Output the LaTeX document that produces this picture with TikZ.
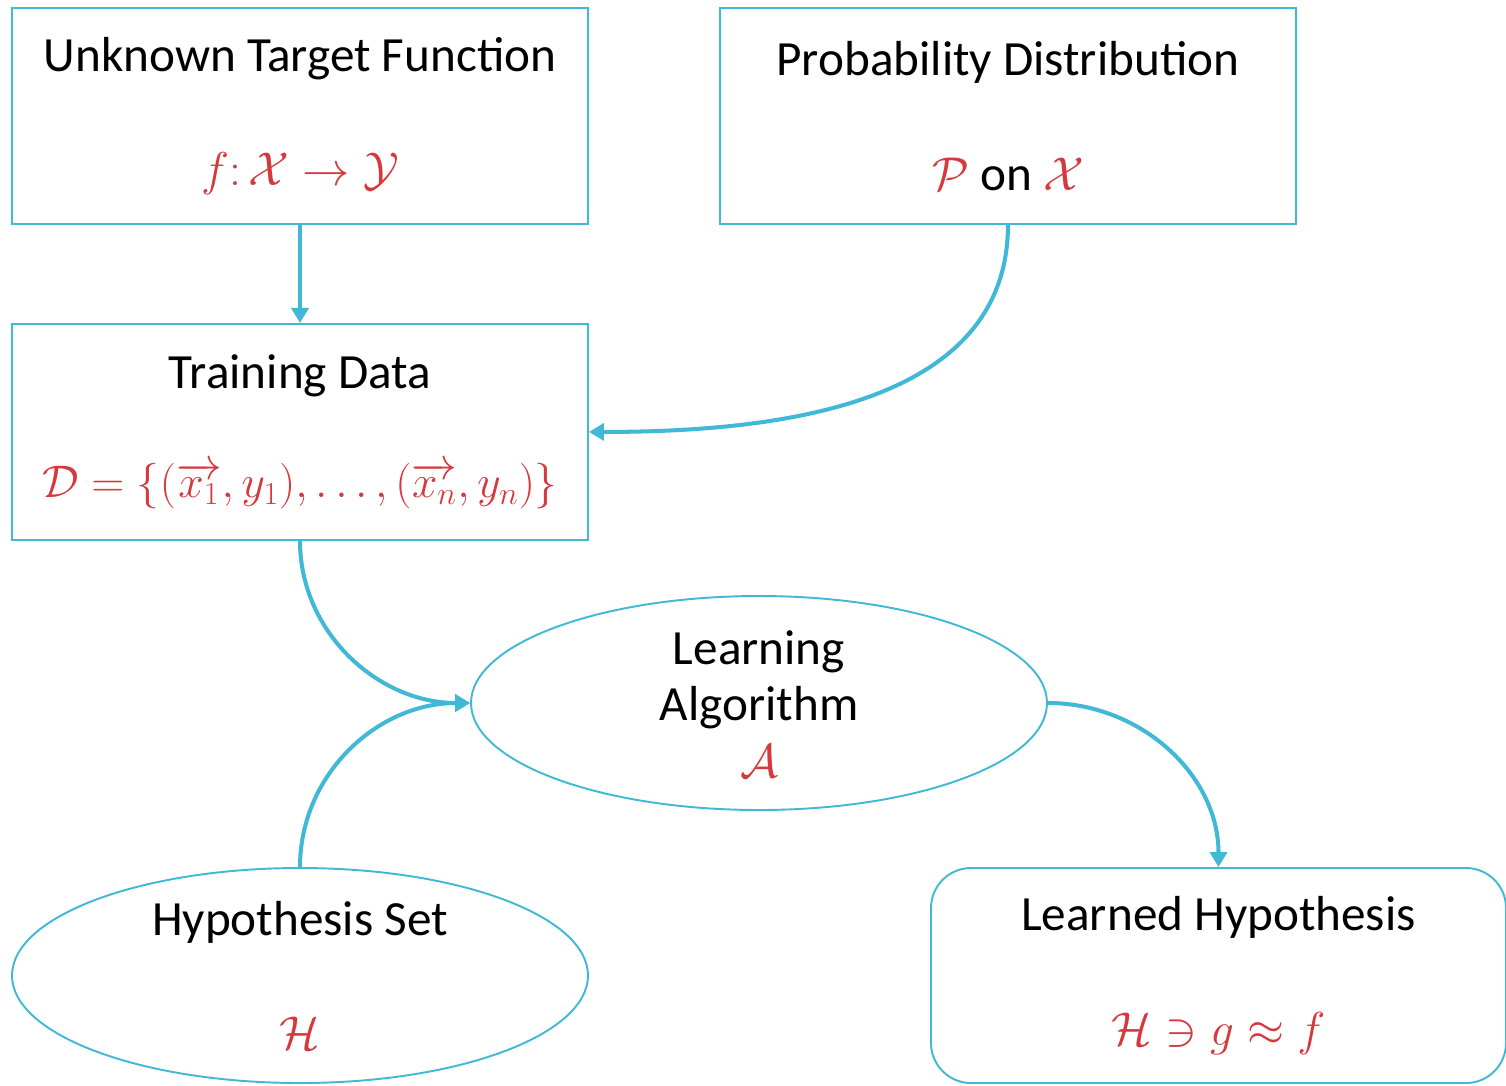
\RequirePackage{fix-cm}
\documentclass[tikz,border=0pt]{standalone}
\usepackage{fontspec}
\setmainfont{Carlito}
\usetikzlibrary{positioning,shapes.geometric,arrows.meta}
\definecolor{flowcyan}{RGB}{65,185,214}
\definecolor{mathred}{RGB}{214,57,61}
\newcommand{\rd}[1]{{\fontsize{27}{32}\selectfont\textcolor{mathred}{#1}}}
\tikzset{
  frame/.style={draw=flowcyan, line width=1.1pt, minimum width=11.52cm, minimum height=4.32cm, inner sep=0pt},
  oval/.style={frame, ellipse, minimum height=4.28cm},
  rframe/.style={frame, rounded corners=0.8cm},
  caption/.style={align=center, font=\fontsize{28}{32}\selectfont, inner sep=0pt},
  flow/.style={draw=flowcyan, line width=2.3pt, -{Triangle[width=0.34cm,length=0.3cm]}}
}
\begin{document}
\begin{tikzpicture}
\useasboundingbox (0,0) rectangle (30.12,-21.7);
% boxes
\node[frame] (target) at (6.0,-2.32) {};
\node[frame, right=2.6cm of target] (prob) {};
\node[frame, below=1.96cm of target] (train) {};
\node[oval] (learn) at (15.18,-14.06) {};
\node[oval, minimum height=4.3cm] (hset) at (6.0,-19.51) {};
\node[rframe, minimum width=11.5cm, minimum height=4.3cm] (learned) at (24.37,-19.51) {};

% texts
\node[caption] (targetText) at (target.center) {Unknown Target Function\\[1.17cm] \rd{$f\colon\mathcal{X}\rightarrow\mathcal{Y}$}};
\node[caption] (probText) at (prob.center) {Probability Distribution\\[1.17cm] \rd{$\mathcal{P}$} on \rd{$\mathcal{X}$}};
\node[caption] (trainText) at (train.center) {Training Data\\[1.05cm] {\fontsize{26}{31}\selectfont\textcolor{mathred}{$\mathcal{D}=\{(\overrightarrow{x_1},y_1),\ldots,(\overrightarrow{x_n},y_n)\}$}}};
\node[caption, yshift=-0.02cm] (learnText) at (learn.center) {Learning\\Algorithm\\ \rd{$\mathcal{A}$}};
\node[caption] (hsetText) at (hset.center) {Hypothesis Set\\[1.17cm] \rd{$\mathcal{H}$}};
\node[caption] (learnedText) at (learned.center) {Learned Hypothesis\\[1.17cm] \rd{$\mathcal{H}\ni g\approx f$}};

% connectors
\draw[flow] (target.south) -- (train.north);
\draw[flow] (prob.south) to[out=-90, in=0] (train.east);
\draw[flow] (train.south) to[out=-90, in=180] (learn.west);
\draw[flow] (hset.north) to[out=90, in=180] (learn.west);
\draw[flow] (learn.east) to[out=0, in=90] (learned.north);
\end{tikzpicture}
\end{document}
